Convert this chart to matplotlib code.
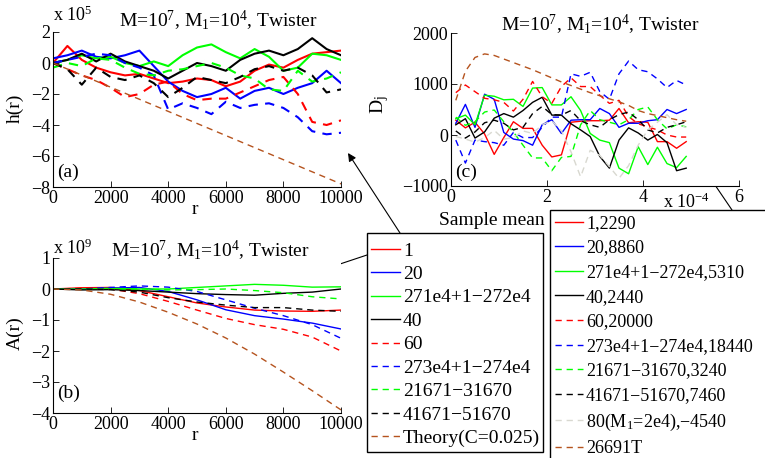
import matplotlib
matplotlib.use('Agg')
import matplotlib.pyplot as plt
from matplotlib.patches import Rectangle

plt.rcParams['font.family'] = ['Liberation Serif', 'DejaVu Serif']
plt.rcParams['mathtext.fontset'] = 'custom'
plt.rcParams['mathtext.rm'] = 'Liberation Serif'
plt.rcParams['mathtext.it'] = 'Liberation Serif:italic'
plt.rcParams['font.size'] = 13

# ---- panel (a): h(r), units of 1e5 ----
r_a = [0, 500, 1000, 1500, 2000, 2500, 3000, 3500, 4000, 4500, 5000,
       5500, 6000, 6500, 7000, 7500, 8000, 8500, 9000, 9500, 10000]
h_red1 = [0, 1.1, 0.2, -0.3, -0.6, -0.8, -0.7, -1.0, -1.3, -1.2, -1.0,
          -1.1, -1.5, -1.2, -0.5, -0.1, -0.3, 0.2, 0.6, 0.7, 0.8]
h_blue1 = [0.3, 0.5, 0.8, 0.4, 0.3, 0.5, 0.8, -0.2, -1.2, -1.8, -2.2,
           -2.0, -1.6, -2.3, -1.8, -1.6, -2.0, -1.6, -1.3, -0.5, -1.3]
h_green1 = [0, 0.2, 0.5, 0.3, 0.4, 0.0, -0.2, 0.1, -0.2, 0.5, 1.0,
            1.2, 0.7, 0.3, 0.9, 0.4, -0.5, -0.3, 0.6, 0.5, 0.2]
h_black1 = [0, 0.2, 0.6, 0.1, 0.6, 0.1, -0.2, -0.5, -1.0, -0.5, 0.0,
            -0.2, -0.5, 0.2, 0.6, 0.8, 0.5, 0.9, 1.6, 0.9, 0.5]
h_red2 = [0, -0.4, -0.8, -1.1, -1.6, -2.2, -2.0, -1.4, -1.2, -2.0, -2.4,
          -2.3, -2.3, -1.9, -1.5, -1.1, -0.9, -2.0, -3.8, -4.0, -3.7]
h_blue2 = [0, 0.2, 0.4, 0.6, 0.5, 0.0, -0.3, -0.8, -3.0, -2.6, -2.9,
           -3.3, -2.5, -2.9, -2.7, -2.6, -2.9, -3.5, -4.4, -4.6, -4.5]
h_green2 = [-0.3, 0.0, -0.2, 0.3, 0.2, -0.3, -0.7, -0.8, -0.5, -0.4, -0.2,
            0.0, -0.3, -0.8, -1.0, -1.7, -1.8, -0.5, -1.2, -1.0, -0.6]
h_black2 = [0, -0.4, -1.4, -0.3, -0.9, -1.1, -0.8, -1.3, -2.2, -1.6, -0.9,
            -1.1, -1.3, -0.9, -0.4, -0.2, -0.5, -0.3, -0.8, -1.9, -1.7]
h_theory = [0, -0.39, -0.78, -1.17, -1.56, -1.95, -2.34, -2.73, -3.12, -3.51, -3.9,
            -4.29, -4.68, -5.07, -5.46, -5.85, -6.24, -6.63, -7.02, -7.41, -7.8]

# ---- panel (b): A(r), units of 1e9 ----
r_b = [0, 1000, 2000, 3000, 4000, 5000, 6000, 7000, 8000, 9000, 10000]
A_red1 = [0, 0.04, 0.05, -0.05, -0.25, -0.45, -0.58, -0.68, -0.71, -0.72, -0.68]
A_blue1 = [0, 0, 0.03, 0.05, -0.08, -0.35, -0.67, -0.86, -0.97, -1.1, -1.29]
A_green1 = [0, 0, 0.02, 0.0, 0.0, 0.05, 0.1, 0.15, 0.12, 0.06, 0.07]
A_black1 = [0, -0.03, -0.02, -0.05, -0.1, -0.15, -0.18, -0.2, -0.14, -0.1, 0.0]
A_red2 = [0, 0.02, 0, -0.15, -0.4, -0.68, -0.95, -1.15, -1.3, -1.55, -2.0]
A_blue2 = [0, 0, 0.05, 0.1, 0.06, -0.08, -0.35, -0.62, -0.86, -1.15, -1.59]
A_green2 = [0, 0, 0, 0, -0.03, -0.02, 0, -0.05, -0.12, -0.25, -0.32]
A_black2 = [0, 0, -0.02, -0.1, -0.28, -0.42, -0.52, -0.6, -0.6, -0.68, -0.72]
A_theory = [0, -0.03, -0.17, -0.42, -0.75, -1.13, -1.58, -2.1, -2.68, -3.28, -3.9]

# ---- panel (c): D_j vs sample mean (x in units of 1e-4) ----
mean_c = [0.1, 0.3, 0.5, 0.7, 0.9, 1.1, 1.3, 1.5, 1.7, 1.9, 2.1, 2.3, 2.5,
          2.7, 2.9, 3.1, 3.3, 3.5, 3.7, 3.9, 4.1, 4.3, 4.5, 4.7, 4.9]
D_red1 = [290, 140, 250, 20, -380, -50, 260, 130, 130, -200, -430, -390, 250,
          270, 280, 280, 290, 520, 240, 260, 250, -130, -130, -260, -130]
D_blue1 = [230, 600, 150, 800, 700, 50, -80, -110, -200, 200, 300, 30, 290,
           300, 300, 520, 420, 150, 230, 230, 280, 300, 500, 420, 500]
D_green1 = [320, 390, 200, 780, 760, 690, 700, 560, 920, 930, 590, 590, 750,
            480, 30, -100, -150, -650, -760, -230, -580, -240, -560, -640, -420]
D_black1 = [200, 320, -60, 60, 330, 420, 350, 480, 640, 740, 390, 390, 220,
            100, -30, -420, -650, -100, 140, 40, -100, 10, -150, -700, -650]
D_red2 = [830, 980, 850, 720, 690, 640, 470, 700, 1050, 750, 620, 950, 1120,
          950, 950, 780, 620, 680, 360, 220, 160, 100, 0, -40, -40]
D_blue2 = [-100, -550, -100, -130, -150, -200, 50, -50, -50, 150, 350, 350, 1200,
           1150, 1230, 850, 700, 1200, 1450, 1280, 1240, 1100, 930, 1070, 980]
D_green2 = [350, 190, 260, 450, 490, 260, 60, -200, -450, -450, -700, -440, -420,
            200, 480, 300, 250, 200, 300, 500, 550, 300, 120, 200, 160]
D_black2 = [80, -60, 60, 240, 290, 230, 100, 150, 420, 560, 400, 390, 480,
            280, 200, 150, 300, 400, 450, 300, 100, 40, 150, 200, 260]
D_gray = [-30, -80, -140, -50, 90, -80, -50, 80, 30, 200, 280, 80, -330,
          -820, -300, -400, -620, -850, -600, -200, 100, 250, 400, 200, 150]
D_theory = [680, 1250, 1520, 1590, 1560, 1490, 1420, 1350, 1280, 1200, 1120, 1040, 970,
            900, 830, 770, 710, 650, 580, 480, 420, 380, 340, 300, 270]

labels_ab = ['1', '20', '271e4+1\u2212272e4', '40', '60', '273e4+1\u2212274e4',
             '21671\u221231670', '41671\u221251670', 'Theory(C=0.025)']
labels_c = ['1,2290', '20,8860', '271e4+1\u2212272e4,5310', '40,2440', '60,20000',
            '273e4+1\u2212274e4,18440', '21671\u221231670,3240', '41671\u221251670,7460',
            '80(M$_1$=2e4),\u22124540', '26691T']

RED, BLUE, GREEN, BLACK = '#FF0000', '#0000FF', '#00FF00', '#000000'
GRAY, BROWN = '#D8D8D0', '#B5531E'
SOLID, DASH = '-', (0, (4.5, 3.5))
FS = 14   # text size
TS = 13   # tick label size

W, H = 765, 458
fig = plt.figure(figsize=(7.65, 4.58), dpi=100)


def add_ax(l, t, r, b):
    return fig.add_axes([l / W, 1 - b / H, (r - l) / W, (b - t) / H])


def style(ax):
    for s in ['top', 'right']:
        ax.spines[s].set_visible(False)
    ax.spines['left'].set_linewidth(0.8)
    ax.spines['bottom'].set_linewidth(0.8)
    ax.tick_params(direction='in', length=4, width=0.6, labelsize=TS, pad=2)


def ftext(x, y, s, **kw):
    fig.text(x / W, 1 - y / H, s, **kw)


ax_a = add_ax(53, 32, 341, 187)
ax_b = add_ax(53, 258, 341, 413)
ax_c = add_ax(451, 33, 739, 186)

# (a)
series_a = [(h_red1, RED, SOLID), (h_blue1, BLUE, SOLID), (h_green1, GREEN, SOLID),
            (h_black1, BLACK, SOLID), (h_red2, RED, DASH), (h_blue2, BLUE, DASH),
            (h_green2, GREEN, DASH), (h_black2, BLACK, DASH)]
for y, c, ls in series_a:
    ax_a.plot(r_a, y, color=c, linestyle=ls, lw=1.5)
ax_a.plot(r_a, h_theory, color=BROWN, linestyle=DASH, lw=1.0)
ax_a.set_xlim(0, 10000)
ax_a.set_ylim(-8, 2)
ax_a.set_xticks([0, 2000, 4000, 6000, 8000, 10000])
ax_a.set_yticks([-8, -6, -4, -2, 0, 2])
style(ax_a)

# (b)
series_b = [(A_red1, RED, SOLID), (A_blue1, BLUE, SOLID), (A_green1, GREEN, SOLID),
            (A_black1, BLACK, SOLID), (A_red2, RED, DASH), (A_blue2, BLUE, DASH),
            (A_green2, GREEN, DASH), (A_black2, BLACK, DASH), (A_theory, BROWN, DASH)]
lines_b = []
for y, c, ls in series_b:
    ln, = ax_b.plot(r_b, y, color=c, linestyle=ls, lw=1.0)
    lines_b.append(ln)
ax_b.set_xlim(0, 10000)
ax_b.set_ylim(-4, 1)
ax_b.set_xticks([0, 2000, 4000, 6000, 8000, 10000])
ax_b.set_yticks([-4, -3, -2, -1, 0, 1])
style(ax_b)

# (c)
series_c = [(D_red1, RED, SOLID), (D_blue1, BLUE, SOLID), (D_green1, GREEN, SOLID),
            (D_black1, BLACK, SOLID), (D_red2, RED, DASH), (D_blue2, BLUE, DASH),
            (D_green2, GREEN, DASH), (D_black2, BLACK, DASH), (D_gray, GRAY, DASH),
            (D_theory, BROWN, DASH)]
lines_c = []
for y, c, ls in series_c:
    ln, = ax_c.plot(mean_c, y, color=c, linestyle=ls, lw=1.0)
    lines_c.append(ln)
ax_c.set_xlim(0, 6)
ax_c.set_ylim(-1000, 2000)
ax_c.set_xticks([0, 2, 4, 6])
ax_c.set_yticks([-1000, 0, 1000, 2000])
style(ax_c)

# titles, labels, offsets
ttl = 'M=10$^7$, M$_1$=10$^4$, Twister'
ftext(218, 21, ttl, ha='center', va='center', fontsize=FS)
ftext(210, 251, ttl, ha='center', va='center', fontsize=FS)
ftext(600, 25, ttl, ha='center', va='center', fontsize=FS)
ftext(53, 15, 'x 10$^5$', ha='left', va='center', fontsize=TS)
ftext(53, 248, 'x 10$^9$', ha='left', va='center', fontsize=TS)
ftext(663, 202, 'x 10$^{\u22124}$', ha='left', va='center', fontsize=TS)
ftext(15, 108, 'h(r)', ha='center', va='center', rotation=90, fontsize=FS)
ftext(15, 333, 'A(r)', ha='center', va='center', rotation=90, fontsize=FS)
ftext(380, 105, 'D$_{\\rm j}$', ha='center', va='center', rotation=90, fontsize=FS)
ftext(195, 209, 'r', ha='center', va='center', fontsize=FS)
ftext(195, 435, 'r', ha='center', va='center', fontsize=FS)
ftext(492, 221, 'Sample mean', ha='center', va='center', fontsize=FS)
ftext(68, 172, '(a)', ha='center', va='center', fontsize=FS)
ftext(69, 393, '(b)', ha='center', va='center', fontsize=FS)
ftext(466, 172, '(c)', ha='center', va='center', fontsize=FS)

# legends (frames drawn separately)
leg1 = ax_b.legend(lines_b, labels_ab, loc='upper left', frameon=False,
                   bbox_to_anchor=(371 / W, 1 - 242 / H), bbox_transform=fig.transFigure,
                   fontsize=FS, handlelength=1.5, handletextpad=0.15, labelspacing=0.3,
                   borderpad=0, borderaxespad=0)
leg2 = ax_c.legend(lines_c, labels_c, loc='upper left', frameon=False,
                   bbox_to_anchor=(555 / W, 1 - 215 / H), bbox_transform=fig.transFigure,
                   fontsize=13, handlelength=1.55, handletextpad=0.17, labelspacing=0.42,
                   borderpad=0, borderaxespad=0)
fig.add_artist(Rectangle((367 / W, 1 - 452 / H), 176 / W, 219 / H, transform=fig.transFigure,
                         fill=False, lw=1.0, ec='k'))
fig.add_artist(Rectangle((550 / W, 1 - 480 / H), 260 / W, 270 / H, transform=fig.transFigure,
                         fill=False, lw=1.0, ec='k'))

# arrows
arrows = [((348, 153), (400, 233)), ((307, 275), (367, 255)), ((698, 160), (732, 210))]
for head, tail in arrows:
    ax_a.annotate('', xy=(head[0] / W, 1 - head[1] / H), xytext=(tail[0] / W, 1 - tail[1] / H),
                  xycoords='figure fraction', textcoords='figure fraction',
                  annotation_clip=False,
                  arrowprops=dict(arrowstyle='-|>', color='k', lw=0.8, mutation_scale=12,
                                  shrinkA=0, shrinkB=0))

fig.savefig('out.png', dpi=100)
